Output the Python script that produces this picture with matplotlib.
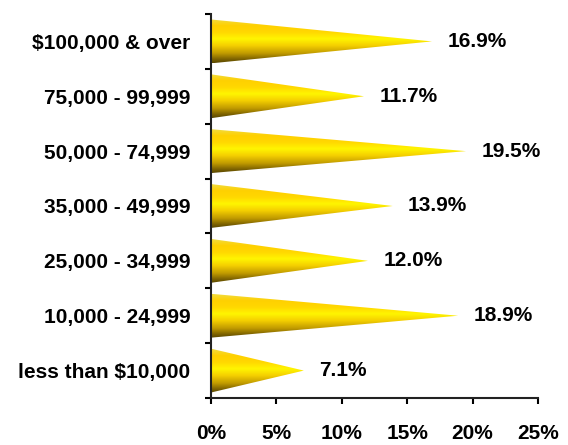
import numpy as np
import matplotlib
matplotlib.use("Agg")
import matplotlib.pyplot as plt
from matplotlib.colors import LinearSegmentedColormap
from matplotlib.patches import Polygon

categories = ["$100,000 & over", "75,000 - 99,999", "50,000 - 74,999",
              "35,000 - 49,999", "25,000 - 34,999", "10,000 - 24,999",
              "less than $10,000"]
shares = [16.9, 11.7, 19.5, 13.9, 12.0, 18.9, 7.1]
xticks = [0, 5, 10, 15, 20, 25]

plt.rcParams['font.family'] = ['Liberation Sans', 'DejaVu Sans']
plt.rcParams['font.weight'] = 'bold'

# vertical shading of the cones, top -> bottom
cone_cmap = LinearSegmentedColormap.from_list("cone", [
    (0.0, "#f2dc40"), (0.15, "#ffd000"), (0.3, "#ffd800"), (0.45, "#fff500"),
    (0.6, "#f5d000"), (0.78, "#c09a00"), (0.92, "#7a6000"), (1.0, "#5a4800")])
grad = np.linspace(0, 1, 256).reshape(-1, 1)

fs = 15
fig = plt.figure(figsize=(5.68, 4.45), dpi=100)
ax = fig.add_axes([0.3715, 0.1056, 0.5755, 0.863])

ypos = np.arange(len(categories))
half = 0.4
for y, v in zip(ypos, shares):
    tri = Polygon([(0, y - half), (0, y + half), (v, y)], closed=True,
                  facecolor='none', edgecolor='none')
    ax.add_patch(tri)
    im = ax.imshow(grad, cmap=cone_cmap, aspect='auto',
                   extent=[0, v, y + half, y - half], origin='upper')
    im.set_clip_path(tri)
    ax.annotate(f"{v:.1f}%", (v, y), xytext=(11, 0), textcoords='offset points',
                ha='left', va='center', fontsize=fs, fontweight='bold')

ax.set_xlim(0, 25)
ax.set_ylim(len(categories) - 0.5, -0.5)
ax.set_xticks(xticks)
ax.set_xticklabels([f"{t}%" for t in xticks], fontsize=fs, fontweight='bold')
ax.set_yticks(ypos)
ax.set_yticklabels(categories, fontsize=fs, fontweight='bold')
ax.set_yticks(np.arange(-0.5, len(categories)), minor=True)
ax.tick_params(axis='y', which='major', length=0, pad=15)
ax.tick_params(axis='y', which='minor', length=4, width=1.5)
ax.tick_params(axis='x', length=4, width=1.5, pad=15)
for s in ['top', 'right']:
    ax.spines[s].set_visible(False)
for s in ['left', 'bottom']:
    ax.spines[s].set_linewidth(1.5)
    ax.spines[s].set_color('#222222')

fig.savefig("out.png", dpi=100)
